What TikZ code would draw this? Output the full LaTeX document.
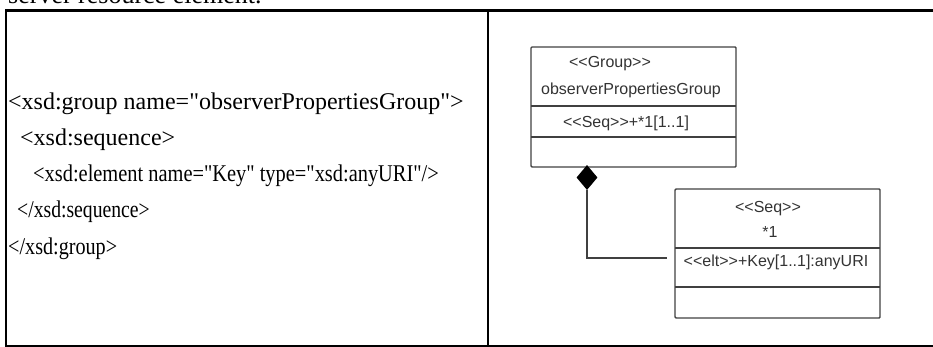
\documentclass[tikz,border=0pt]{standalone}
\usepackage{fontspec}
\setmainfont{Liberation Serif}[Ligatures=TeXOff]
\newfontfamily\umlfont{Liberation Sans}
\usetikzlibrary{shapes.geometric}
\newcommand{\narrow}[2]{\scalebox{#1}[1]{#2}}

\begin{document}
\begin{tikzpicture}
                \tikzset{x=1pt, y=-1pt}
                \tikzstyle{rule}=[line width=2.2pt]
                \tikzstyle{uml}=[rectangle, draw=black!75, line width=1.4pt, rounded corners=1pt, minimum width=205pt, inner sep=0pt]
                \tikzstyle{div}=[draw=black!75, line width=1.4pt]
                \tikzstyle{lbl}=[anchor=base, inner sep=0pt, text=black!80, font=\umlfont\fontsize{16}{18}\selectfont]
                \tikzstyle{code}=[anchor=base west, inner sep=0pt, font=\fontsize{24}{28}\selectfont]
                \tikzstyle{dia}=[diamond, fill=black, inner sep=0pt, minimum width=21pt, minimum height=25pt]

                \clip (0,0) rectangle (933,347);

                % caption line, cut at the top
                \draw (8,4)         node[code, font=\fontsize{26}{30}\selectfont] (cap) {server resource element.};

                % table frame
                \draw[rule] (5,10.5) -- (933,10.5);
                \draw[rule] (5,346) -- (933,346);
                \draw[rule] (6,10.5) -- (6,346);
                \draw[rule] (488,10.5) -- (488,346);

                % schema text
                \draw (8,110)       node[code]  (l1)    {<xsd:group name="observerPropertiesGroup">};
                \draw (20,146)      node[code]  (l2)    {<xsd:sequence>};
                \draw (33,182)      node[code]  (l3)    {\narrow{0.85}{<xsd:element name="Key" type="xsd:anyURI"/>}};
                \draw (17,218)      node[code]  (l4)    {\narrow{0.82}{</xsd:sequence>}};
                \draw (8,254)       node[code]  (l5)    {\narrow{0.84}{</xsd:group>}};

                % group class
                \draw (633.5,107)   node[uml, minimum height=120pt] (gbox) {};
                \draw[div] (531,106) -- (736,106);
                \draw[div] (531,137) -- (736,137);
                \draw (610,67.5)    node[lbl]   (grp)   {<<Group>>};
                \draw (631,95)      node[lbl]   (gname) {observerPropertiesGroup};
                \draw (626,128)     node[lbl]   (gseq)  {<<Seq>>+*1[1..1]};

                % sequence class
                \draw (777.5,253.5) node[uml, minimum height=129pt] (sbox) {};
                \draw[div] (675,248) -- (880,248);
                \draw[div] (675,287) -- (880,287);
                \draw (768,212.5)   node[lbl]   (seq)   {<<Seq>>};
                \draw (770,237)     node[lbl]   (sname) {*1};
                \draw (776,266)     node[lbl]   (skey)  {<<elt>>+Key[1..1]:anyURI};

                % composition
                \draw (587,177.5)   node[dia]   (comp)  {};
                \coordinate (lnk) at (667,258);
                \draw[div]          (comp.south) |- (lnk);
            \end{tikzpicture}
\end{document}
